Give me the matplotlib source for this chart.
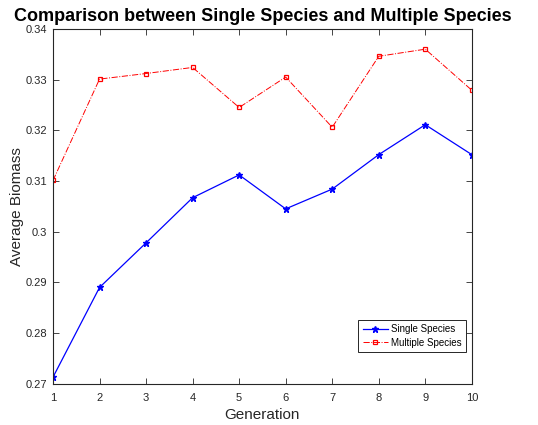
import matplotlib
matplotlib.use("Agg")
import matplotlib.pyplot as plt

plt.rcParams['font.family'] = ['Liberation Sans', 'DejaVu Sans']

generations = [1, 2, 3, 4, 5, 6, 7, 8, 9, 10]
single_species = [0.2713, 0.2890, 0.2978, 0.3067, 0.3112, 0.3045, 0.3084, 0.3152, 0.3211, 0.3152]
multiple_species = [0.3101, 0.3301, 0.3312, 0.3324, 0.3245, 0.3305, 0.3206, 0.3346, 0.3360, 0.3279]
y_ticks = [0.27, 0.28, 0.29, 0.3, 0.31, 0.32, 0.33, 0.34]
y_labels = ['0.27', '0.28', '0.29', '0.3', '0.31', '0.32', '0.33', '0.34']

fig = plt.figure(figsize=(5.38, 4.25), dpi=100)
ax = fig.add_axes([0.0985, 0.097, 0.7785, 0.835])

ax.plot(generations, single_species, color='blue', linestyle='-', linewidth=0.9,
        marker='*', markersize=5, label='Single Species')
ax.plot(generations, multiple_species, color='red', linestyle='-.', linewidth=0.7,
        marker='s', markersize=3.5, markerfacecolor='none', markeredgewidth=0.9,
        label='Multiple Species')

ax.set_xlim(1, 10)
ax.set_ylim(0.27, 0.34)
ax.set_xticks(generations)
ax.set_yticks(y_ticks)
ax.set_yticklabels(y_labels)
ax.tick_params(direction='in', top=True, right=True, labelsize=8, colors='#262626',
               length=4, width=0.6)
ax.tick_params(axis='x', pad=7)
ax.tick_params(axis='y', pad=4)
for s in ax.spines.values():
    s.set_linewidth(0.8)
    s.set_color('#262626')

ax.set_xlabel('Generation', fontsize=11, color='#262626', labelpad=3)
ax.set_ylabel('Average Biomass', fontsize=11, color='#262626', labelpad=1)
ax.set_title('Comparison between Single Species and Multiple Species',
             fontsize=13, fontweight='bold', pad=6)

leg = ax.legend(loc='lower right', bbox_to_anchor=(0.986, 0.089), fontsize=7,
                fancybox=False, framealpha=1, edgecolor='#262626', borderaxespad=0,
                handlelength=2.6, borderpad=0.45, labelspacing=0.35, handletextpad=0.3)
leg.get_frame().set_linewidth(0.7)

fig.savefig('out.png', dpi=100)
